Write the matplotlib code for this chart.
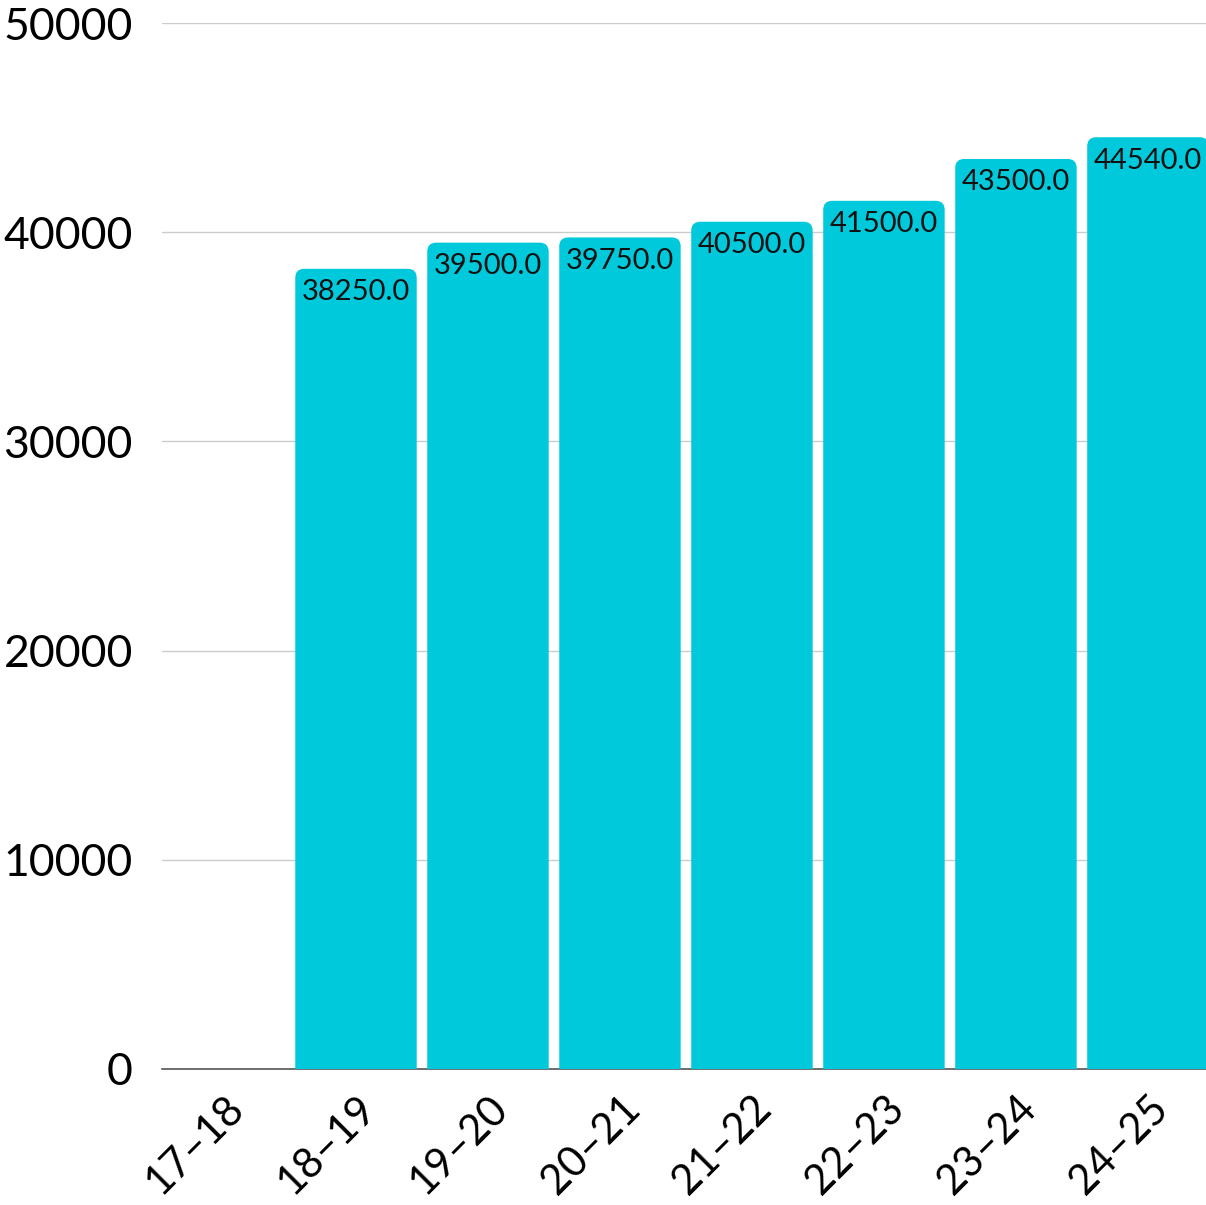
import numpy as np
import matplotlib.pyplot as plt
from matplotlib.patches import FancyBboxPatch

seasons = ['17–18', '18–19', '19–20', '20–21', '21–22', '22–23', '23–24', '24–25']
values = [0, 38250.0, 39500.0, 39750.0, 40500.0, 41500.0, 43500.0, 44540.0]
yticks = [0, 10000, 20000, 30000, 40000, 50000]

bar_color = '#00C9DB'
plt.rcParams['font.family'] = ['Lato', 'DejaVu Sans']

fig = plt.figure(figsize=(12.06, 12.05), dpi=100)
ax = fig.add_axes([0.1343, 0.1129, 0.8657, 0.868])

x = np.arange(len(seasons))
bars = ax.bar(x, values, width=0.92, color=bar_color)

ax.set_xlim(-0.47, 7.44)
ax.set_ylim(0, 50000)

# swap the plain bars for ones with rounded tops
px_x = 1044 / (7.44 + 0.47)      # pixels per x unit
px_y = 1046 / 50000              # pixels per y unit
for b, v in zip(bars, values):
    b.remove()
    if v <= 0:
        continue
    r = FancyBboxPatch((b.get_x(), -3000), b.get_width(), v + 3000,
                       boxstyle='round,pad=0,rounding_size=%f' % (9 / px_x),
                       mutation_aspect=px_x / px_y,
                       facecolor=bar_color, edgecolor='none', zorder=2)
    ax.add_patch(r)
    ax.text(b.get_x() + b.get_width() / 2, v - 500, '%.1f' % v,
            ha='center', va='top', fontsize=21, color='#111111', zorder=3)

ax.set_yticks(yticks)
ax.set_yticklabels([str(t) for t in yticks], fontsize=32)
ax.set_xticks(x)
ax.set_xticklabels(seasons, fontsize=30, rotation=45, ha='right',
                   rotation_mode='anchor')
ax.tick_params(axis='both', length=0)
ax.tick_params(axis='y', pad=21)
ax.tick_params(axis='x', pad=14)

ax.grid(axis='y', color='#cccccc', linewidth=1)
ax.set_axisbelow(True)
for s in ['top', 'right', 'left']:
    ax.spines[s].set_visible(False)
ax.spines['bottom'].set_color('#555555')
ax.spines['bottom'].set_linewidth(1.2)
ax.spines['bottom'].set_zorder(1)

fig.savefig('out.png', dpi=100)
